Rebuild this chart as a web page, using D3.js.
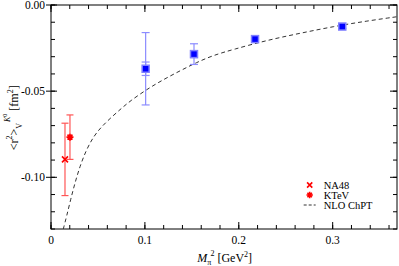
<!DOCTYPE html>
<html>
<head>
<meta charset="utf-8">
<script src="https://cdn.jsdelivr.net/npm/d3@7"></script>
<style>
  body { margin: 0; background: #fff; }
  text { font-family: "Liberation Serif", "DejaVu Serif", serif; }
</style>
</head>
<body>
<div id="chart"></div>
<script>
// lattice points: M_pi^2, value, inner (stat) error, outer (total) error
const latX = [0.1008, 0.1523, 0.2173, 0.3102];
const latY = [-0.0370, -0.0285, -0.0198, -0.0125];
const latStat = [0.0039, 0.0020, 0.0012, 0.0010];
const latTot = [0.0210, 0.0060, 0.0017, 0.0013];

// experiments
const expNames = ["NA48", "KTeV"];
const expX = [0.0149, 0.0202];
const expY = [-0.0896, -0.0767];
const expErr = [0.0210, 0.0129];

// NLO ChPT curve
const curveX = [0.0131, 0.0167, 0.0210, 0.0256, 0.0309, 0.0373, 0.0450, 0.0540, 0.0646, 0.0750, 0.0841,
                0.1019, 0.1196, 0.1374, 0.1552, 0.1728, 0.1941, 0.2297, 0.2652, 0.3006, 0.3362, 0.3685];
const curveY = [-0.1300, -0.1225, -0.1127, -0.1031, -0.0935, -0.0845, -0.0765, -0.0705, -0.0650, -0.0600, -0.0558,
                -0.0490, -0.0433, -0.0382, -0.0333, -0.0292, -0.0258, -0.0205, -0.0164, -0.0125, -0.0093, -0.0068];

const xMajor = [0, 0.1, 0.2, 0.3];
const xLabels = ["0", "0.1", "0.2", "0.3"];
const yMajor = [0, -0.05, -0.10];
const yLabels = ["0.00", "-0.05", "-0.10"];
const legendNames = ["NA48", "KTeV", "NLO ChPT"];

const W = 399, H = 266;
const margin = { top: 5, right: 2, bottom: 37, left: 51 };
const width = W - margin.left - margin.right,
      height = H - margin.top - margin.bottom;

const svg = d3.select("#chart").append("svg")
    .attr("width", W).attr("height", H)
  .append("g")
    .attr("transform", `translate(${margin.left}, ${margin.top})`);

const x = d3.scaleLinear().domain([0, 0.3685]).range([0, width]);
const y = d3.scaleLinear().domain([-0.13, 0]).range([height, 0]);

const xMinor = d3.range(0, 0.37, 0.02);
const yMinor = d3.range(-0.13, 0.0001, 0.01);

// minor ticks (inward, all four sides)
const ticks = svg.append("g").attr("stroke", "#000").attr("stroke-width", 1);
xMinor.forEach(v => {
  ticks.append("line").attr("x1", x(v)).attr("x2", x(v)).attr("y1", height).attr("y2", height - 4);
  ticks.append("line").attr("x1", x(v)).attr("x2", x(v)).attr("y1", 0).attr("y2", 4);
});
yMinor.forEach(v => {
  ticks.append("line").attr("y1", y(v)).attr("y2", y(v)).attr("x1", 0).attr("x2", 4);
  ticks.append("line").attr("y1", y(v)).attr("y2", y(v)).attr("x1", width).attr("x2", width - 4);
});
// major ticks
xMajor.forEach(v => {
  ticks.append("line").attr("x1", x(v)).attr("x2", x(v)).attr("y1", height).attr("y2", height - 7);
  ticks.append("line").attr("x1", x(v)).attr("x2", x(v)).attr("y1", 0).attr("y2", 7);
});
yMajor.forEach(v => {
  ticks.append("line").attr("y1", y(v)).attr("y2", y(v)).attr("x1", -5).attr("x2", 6);
  ticks.append("line").attr("y1", y(v)).attr("y2", y(v)).attr("x1", width).attr("x2", width - 7);
});

// frame
svg.append("rect")
    .attr("width", width).attr("height", height)
    .attr("fill", "none").attr("stroke", "#000").attr("stroke-width", 1);

// tick labels
xMajor.forEach((v, i) => {
  svg.append("text").attr("x", x(v)).attr("y", height + 15)
    .attr("text-anchor", "middle").attr("font-size", 11.5).text(xLabels[i]);
});
yMajor.forEach((v, i) => {
  svg.append("text").attr("x", -6).attr("y", y(v) + 4)
    .attr("text-anchor", "end").attr("font-size", 11.5).text(yLabels[i]);
});

// axis titles
const xt = svg.append("text").attr("x", x(0.185)).attr("y", height + 33)
    .attr("text-anchor", "middle").attr("font-size", 12);
xt.append("tspan").attr("font-style", "italic").text("M");
xt.append("tspan").attr("font-size", 8).attr("dy", 3).text("π");
xt.append("tspan").attr("font-size", 8).attr("dy", -9).attr("dx", -1).text("2");
xt.append("tspan").attr("dy", 6).text(" [GeV");
xt.append("tspan").attr("font-size", 8).attr("dy", -5).text("2");
xt.append("tspan").attr("dy", 5).text("]");

const yt = svg.append("text")
    .attr("transform", `translate(${-33}, ${y(-0.0655)}) rotate(-90)`)
    .attr("text-anchor", "middle").attr("font-size", 12);
yt.append("tspan").text("<r");
yt.append("tspan").attr("font-size", 8).attr("dy", -6).text("2");
yt.append("tspan").attr("dy", 6).text(">");
yt.append("tspan").attr("font-size", 8).attr("dy", 4).text("V");
yt.append("tspan").attr("font-size", 8).attr("dy", -12).attr("dx", 1).attr("font-style", "italic").text("K");
yt.append("tspan").attr("font-size", 6).attr("dy", -3).text("0");
yt.append("tspan").attr("dy", 11).text(" [fm");
yt.append("tspan").attr("font-size", 8).attr("dy", -5).text("2");
yt.append("tspan").attr("dy", 5).text("]");

// NLO ChPT dashed curve
const curveData = curveX.map((v, i) => ({ x: v, y: curveY[i] }));
const line = d3.line().x(d => x(d.x)).y(d => y(d.y)).curve(d3.curveBasis);
svg.append("path")
    .datum(curveData)
    .attr("fill", "none")
    .attr("stroke", "#333")
    .attr("stroke-width", 1)
    .attr("stroke-dasharray", "4,3")
    .attr("d", line);

// error bar helper
function errBar(g, cx, lo, hi, cap, color) {
  g.append("line").attr("x1", x(cx)).attr("x2", x(cx)).attr("y1", y(lo)).attr("y2", y(hi))
    .attr("stroke", color).attr("stroke-width", 1.2);
  [lo, hi].forEach(v => {
    g.append("line").attr("x1", x(cx) - cap).attr("x2", x(cx) + cap).attr("y1", y(v)).attr("y2", y(v))
      .attr("stroke", color).attr("stroke-width", 1.2);
  });
}

// lattice points
const lat = svg.append("g");
latX.forEach((v, i) => {
  errBar(lat, v, latY[i] - latTot[i], latY[i] + latTot[i], 4, "#8c8cff");
  errBar(lat, v, latY[i] - latStat[i], latY[i] + latStat[i], 4, "#8c8cff");
  lat.append("rect")
    .attr("x", x(v) - 3.5).attr("y", y(latY[i]) - 3.5)
    .attr("width", 7).attr("height", 7)
    .attr("fill", "#0000ff").attr("stroke", "#8080ff").attr("stroke-width", 1.5);
});

// experimental points
const ex = svg.append("g");
expX.forEach((v, i) => {
  errBar(ex, v, expY[i] - expErr[i], expY[i] + expErr[i], 3.5, "#ff5555");
});
function crossMark(g, cx, cy, s) {
  g.append("path").attr("d", `M${cx - s},${cy - s}L${cx + s},${cy + s}M${cx - s},${cy + s}L${cx + s},${cy - s}`)
    .attr("stroke", "#ff0000").attr("stroke-width", 1.6);
}
function starMark(g, cx, cy, s) {
  let d = "";
  for (let k = 0; k < 4; k++) {
    const a = k * Math.PI / 4;
    d += `M${cx - s * Math.cos(a)},${cy - s * Math.sin(a)}L${cx + s * Math.cos(a)},${cy + s * Math.sin(a)}`;
  }
  g.append("path").attr("d", d).attr("stroke", "#ff0000").attr("stroke-width", 1.6);
}
crossMark(ex, x(expX[0]), y(expY[0]), 3);
starMark(ex, x(expX[1]), y(expY[1]), 3.5);

// legend
const lg = svg.append("g").attr("transform", `translate(${x(0.2755)}, 0)`);
crossMark(lg, 0, 180, 2.6);
starMark(lg, 0, 190, 3.2);
lg.append("line").attr("x1", -6).attr("x2", 6).attr("y1", 200).attr("y2", 200)
  .attr("stroke", "#333").attr("stroke-dasharray", "3,2");
legendNames.forEach((t, i) => {
  lg.append("text").attr("x", 14).attr("y", 183.5 + i * 10).attr("font-size", 10.5).text(t);
});
</script>
</body>
</html>
